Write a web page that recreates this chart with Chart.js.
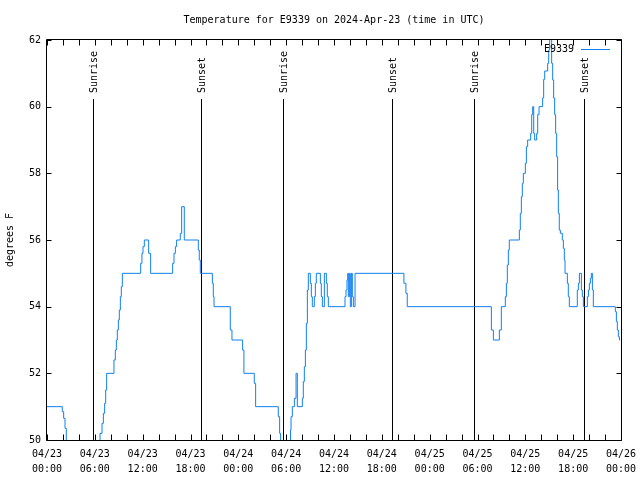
<!DOCTYPE html>
<html>
<head>
<meta charset="utf-8">
<script src="https://cdn.jsdelivr.net/npm/chart.js@4.4.1/dist/chart.umd.min.js"></script>
<style>
  html, body { margin: 0; padding: 0; background: #fff; }
  canvas { display: block; }
</style>
</head>
<body>
<canvas id="chart" width="640" height="480" style="width:640px;height:480px"></canvas>
<script>
// hours since 04/23 00:00 UTC, and the temperature reached at that moment
const hours = [
  0, 1.92, 2.09, 2.26, 2.42, 6.65, 6.90, 7.07, 7.23, 7.36, 7.48,
  8.40, 8.57, 8.70, 8.82, 8.95, 9.07, 9.20, 9.32, 9.45,
  11.75, 11.91, 12.04, 12.21, 12.75, 13.00,
  15.76, 15.93, 16.10, 16.26, 16.72, 16.89, 17.22,
  18.98, 19.10, 19.23, 20.74, 20.86, 20.95, 22.99, 23.20,
  24.54, 24.70, 26.00, 26.17, 29.01, 29.18, 29.30,
  30.55, 30.61, 30.77, 31.03, 31.24, 31.40, 32.03, 32.15, 32.28, 32.41, 32.53, 32.66, 32.78,
  33.03, 33.16, 33.28, 33.53, 33.66, 33.78, 34.29, 34.41, 34.54, 34.79, 35.04, 35.16, 35.29,
  37.38, 37.51, 37.63, 37.72, 37.80, 37.93, 38.05, 38.18, 38.30, 38.43, 38.64,
  44.77, 45.02, 45.19,
  55.74, 55.99, 56.74, 56.99, 57.49, 57.62, 57.74, 57.87, 57.99,
  59.25, 59.37, 59.50, 59.62, 59.75, 60.00, 60.13, 60.29, 60.67, 60.80, 60.92,
  61.05, 61.17, 61.42, 61.55, 61.72, 62.17, 62.30, 62.43, 62.80, 62.93, 63.05,
  63.30, 63.43, 63.55, 63.68, 63.80, 63.93, 64.05, 64.14, 64.26, 64.39, 64.64, 64.77, 64.89, 64.98,
  65.27, 65.39, 65.52, 66.52, 66.65, 66.78, 67.03, 67.15, 67.28,
  67.78, 67.91, 68.03, 68.16, 68.28, 68.41, 68.53,
  71.29, 71.42, 71.54, 71.67, 71.80, 71.90
];
const tempF = [
  51.0, 50.85, 50.65, 50.35, 49.6, 50.2, 50.5, 50.8, 51.1, 51.5, 52.0,
  52.4, 52.7, 53.0, 53.3, 53.6, 53.9, 54.3, 54.6, 55.0,
  55.3, 55.6, 55.8, 56.0, 55.6, 55.0,
  55.3, 55.6, 55.8, 56.0, 56.2, 57.0, 56.0,
  55.7, 55.4, 55.0, 54.7, 54.3, 54.0, 53.3, 53.0,
  52.7, 52.0, 51.7, 51.0, 50.7, 50.2, 49.6,
  50.3, 50.7, 51.0, 51.25, 52.0, 51.0, 51.25, 51.75, 52.2, 52.7, 53.5, 54.5, 55.0,
  54.7, 54.3, 54.0, 54.3, 54.7, 55.0, 54.7, 54.3, 54.0, 55.0, 54.7, 54.3, 54.0,
  54.3, 54.5, 54.8, 55.0, 54.3, 55.0, 54.0, 55.0, 54.3, 54.0, 55.0,
  54.7, 54.4, 54.0,
  53.3, 53.0, 53.3, 54.0, 54.3, 54.7, 55.25, 55.7, 56.0,
  56.3, 56.8, 57.3, 57.7, 58.0, 58.3, 58.8, 59.0, 59.2, 59.76, 60.0,
  59.2, 59.0, 59.2, 59.76, 60.0, 60.26, 60.82, 61.07, 61.3, 61.7, 62.2,
  61.3, 60.8, 60.26, 59.76, 59.2, 58.5, 57.5, 56.8, 56.3, 56.2, 56.0, 55.75, 55.4, 55.0,
  54.7, 54.3, 54.0, 54.5, 54.7, 55.0, 54.5, 54.3, 54.0,
  54.3, 54.5, 54.7, 54.85, 55.0, 54.5, 54.0,
  53.85, 53.55, 53.3, 53.1, 53.0, 53.0
];

const sunHours = [5.73, 19.36, 29.64, 43.31, 53.60, 67.40];
const sunLabels = ['Sunrise', 'Sunset', 'Sunrise', 'Sunset', 'Sunrise', 'Sunset'];

const dayLabels = ['04/23', '04/23', '04/23', '04/23', '04/24', '04/24', '04/24', '04/24',
                   '04/25', '04/25', '04/25', '04/25', '04/26'];
const timeLabels = ['00:00', '06:00', '12:00', '18:00', '00:00', '06:00', '12:00', '18:00',
                    '00:00', '06:00', '12:00', '18:00', '00:00'];

const stationName = 'E9339';
const chartTitle = 'Temperature for E9339 on 2024-Apr-23 (time in UTC)';

const FONT = 'DejaVu Sans Mono';
const LINE_COLOR = '#1080f0';

// gnuplot look: box, inward ticks, sunrise/sunset markers, key inside
const gnuplotFrame = {
  id: 'gnuplotFrame',
  beforeDatasetsDraw(chart) {
    const { ctx, chartArea: a, scales: { x } } = chart;
    ctx.save();
    ctx.strokeStyle = '#000';
    ctx.fillStyle = '#000';
    ctx.lineWidth = 1;
    ctx.font = '10px "' + FONT + '"';
    sunHours.forEach((h, i) => {
      const px = Math.round(x.getPixelForValue(h)) + 0.5;
      ctx.beginPath();
      ctx.moveTo(px, 99);
      ctx.lineTo(px, a.bottom);
      ctx.stroke();
      ctx.save();
      ctx.translate(px + 1, 93);
      ctx.rotate(-Math.PI / 2);
      ctx.textAlign = 'left';
      ctx.textBaseline = 'middle';
      ctx.fillText(sunLabels[i], 0, 0);
      ctx.restore();
    });
    ctx.restore();
  },
  afterDraw(chart) {
    const { ctx, chartArea: a, scales: { x, y } } = chart;
    ctx.save();
    ctx.strokeStyle = '#000';
    ctx.lineWidth = 1;
    const L = a.left - 0.5, R = a.right + 0.5, T = a.top - 0.5, B = a.bottom + 0.5;
    ctx.beginPath();
    ctx.rect(L, T, R - L, B - T);
    for (let h = x.min; h <= x.max; h += 2) {
      const px = Math.round(x.getPixelForValue(h)) + 0.5;
      ctx.moveTo(px, B); ctx.lineTo(px, B - 6);
      ctx.moveTo(px, T); ctx.lineTo(px, T + 6);
    }
    for (let v = y.min; v <= y.max; v += 2) {
      const py = Math.round(y.getPixelForValue(v)) + 0.5;
      ctx.moveTo(L, py); ctx.lineTo(L + 5, py);
      ctx.moveTo(R, py); ctx.lineTo(R - 5, py);
    }
    ctx.stroke();

    // title centred over the plot
    ctx.fillStyle = '#000';
    ctx.font = '10px "' + FONT + '"';
    ctx.textAlign = 'center';
    ctx.textBaseline = 'middle';
    ctx.fillText(chartTitle, (a.left + a.right) / 2, 20);

    // key
    ctx.textAlign = 'right';
    ctx.fillText(stationName, 574, 49);
    ctx.strokeStyle = LINE_COLOR;
    ctx.beginPath();
    ctx.moveTo(581, 49.5);
    ctx.lineTo(610, 49.5);
    ctx.stroke();
    ctx.restore();
  }
};

new Chart(document.getElementById('chart'), {
  type: 'line',
  data: {
    datasets: [{
      label: stationName,
      data: hours.map((h, i) => ({ x: h, y: tempF[i] })),
      borderColor: LINE_COLOR,
      borderWidth: 1,
      pointRadius: 0,
      stepped: true,
      fill: false
    }]
  },
  options: {
    responsive: false,
    animation: false,
    devicePixelRatio: 1,
    layout: { padding: { left: 0, right: 19, top: 40, bottom: 0 } },
    plugins: {
      legend: { display: false },
      title: { display: false },
      tooltip: { enabled: false }
    },
    scales: {
      x: {
        type: 'linear',
        min: 0,
        max: 72,
        grid: { display: false, drawTicks: false },
        border: { display: false },
        ticks: {
          stepSize: 6,
          autoSkip: false,
          maxRotation: 0,
          padding: 7,
          color: '#000',
          font: { family: FONT, size: 10, lineHeight: 1.5 },
          callback: (v) => {
            const i = Math.round(v / 6);
            return [dayLabels[i], timeLabels[i]];
          }
        },
        afterFit: (s) => { s.height = 40; s.paddingLeft = 0; s.paddingRight = 0; }
      },
      y: {
        min: 50,
        max: 62,
        grid: { display: false, drawTicks: false },
        border: { display: false },
        ticks: {
          stepSize: 2,
          padding: 6,
          color: '#000',
          font: { family: FONT, size: 10 }
        },
        title: {
          display: true,
          text: 'degrees F',
          color: '#000',
          font: { family: FONT, size: 10 },
          padding: { top: 4, bottom: 0 }
        },
        afterFit: (s) => { s.width = 47; s.paddingTop = 0; s.paddingBottom = 0; }
      }
    }
  },
  plugins: [gnuplotFrame]
});
</script>
</body>
</html>
